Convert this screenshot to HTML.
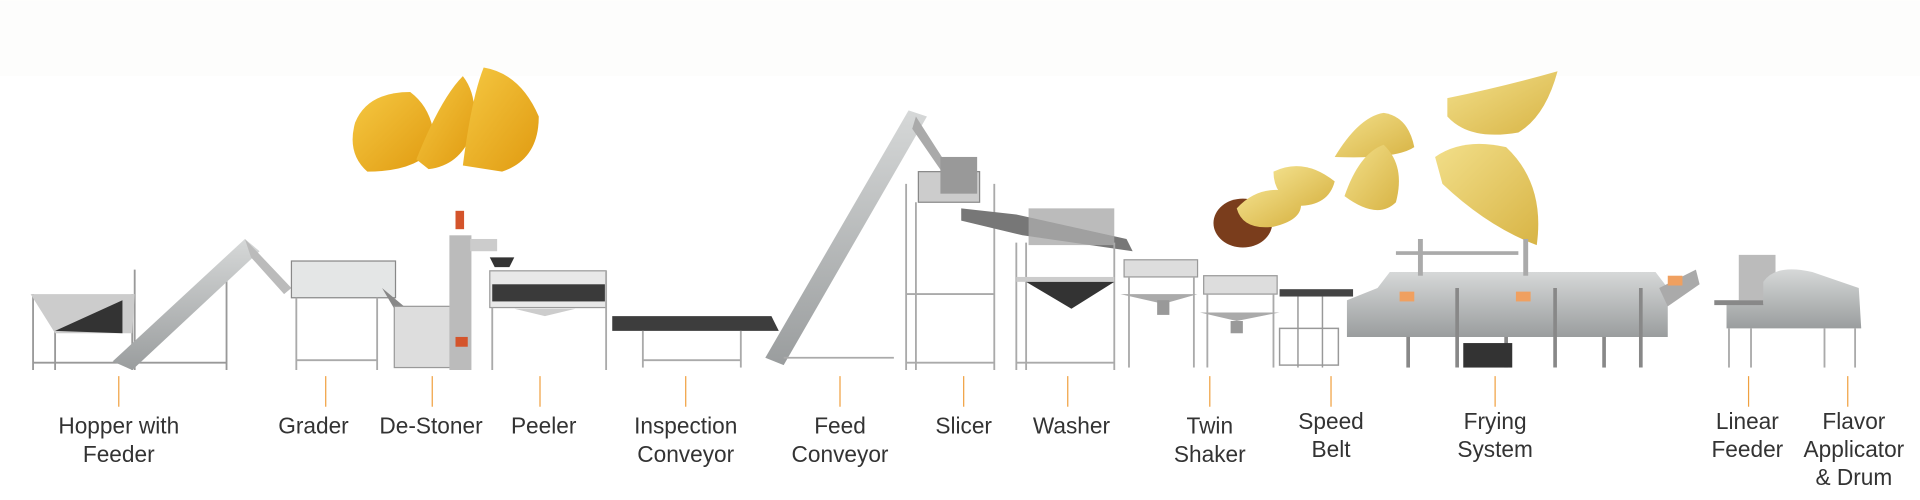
<!DOCTYPE html>
<html><head><meta charset="utf-8"><style>
html,body{margin:0;padding:0;background:#fff;width:1920px;height:500px;overflow:hidden}
svg{display:block}
text{font-family:"Liberation Sans",Arial,sans-serif;font-size:18.5px;fill:#333;text-anchor:middle}
</style></head><body>
<svg width="1920" height="500" viewBox="0 0 1568 408" xmlns="http://www.w3.org/2000/svg">
<defs>
<linearGradient id="ch" x1="0" y1="0" x2="1" y2="1"><stop offset="0" stop-color="#f5c842"/><stop offset="1" stop-color="#e09a10"/></linearGradient>
<linearGradient id="cl" x1="0" y1="0" x2="1" y2="1"><stop offset="0" stop-color="#f2df8a"/><stop offset="1" stop-color="#d8b445"/></linearGradient>
<linearGradient id="mt" x1="0" y1="0" x2="0" y2="1"><stop offset="0" stop-color="#d6d8d8"/><stop offset="1" stop-color="#9a9d9e"/></linearGradient>
</defs>
<rect x="0" y="0" width="1568" height="62" fill="#fdfdfc"/>
<g>
<path d="M290 100 Q300 75 335 75 Q355 90 355 120 Q340 140 300 140 Q283 125 290 100Z" fill="url(#ch)"/>
<path d="M340 130 Q360 80 378 62 Q392 80 385 110 Q375 135 350 138Z" fill="url(#ch)"/>
<path d="M378 135 Q385 80 395 55 Q425 60 440 95 Q440 130 410 140Z" fill="url(#ch)"/>
</g>
<ellipse cx="1015" cy="182" rx="24" ry="20" fill="#7a3d1c"/>
<path d="M1010 170 Q1030 148 1060 158 Q1070 178 1040 185 Q1015 188 1010 170Z" fill="url(#cl)"/>
<path d="M1040 140 Q1065 128 1090 148 Q1085 168 1060 168 Q1040 160 1040 140Z" fill="url(#cl)"/>
<path d="M1090 128 Q1110 95 1130 92 Q1150 95 1155 120 Q1140 130 1090 128Z" fill="url(#cl)"/>
<path d="M1098 160 Q1110 125 1130 118 Q1148 135 1140 165 Q1125 180 1098 160Z" fill="url(#cl)"/>
<path d="M1182 80 Q1230 70 1272 58 Q1262 95 1240 108 Q1200 115 1182 95Z" fill="url(#cl)"/>
<path d="M1172 128 Q1195 112 1230 120 Q1262 150 1255 200 Q1215 185 1178 150Z" fill="url(#cl)"/>
<g stroke="#999" stroke-width="1.5" fill="none">
<line x1="27" y1="240" x2="27" y2="302"/><line x1="108" y1="240" x2="108" y2="302"/><line x1="45" y1="270" x2="45" y2="302"/><line x1="27" y1="296" x2="108" y2="296"/>
<line x1="110" y1="220" x2="110" y2="302"/><line x1="185" y1="220" x2="185" y2="302"/><line x1="110" y1="296" x2="185" y2="296"/>
</g>
<path d="M25 240 L110 240 L108 272 L45 272Z" fill="#ccc"/>
<path d="M45 270 L100 245 L100 272Z" fill="#333"/>
<path d="M92 295 L200 195 L212 205 L108 302Z" fill="url(#mt)"/>
<path d="M200 195 L238 235 L232 240 L205 210Z" fill="#bbb"/>
<rect x="238" y="213" width="85" height="30" fill="#e4e6e6" stroke="#888"/>
<path d="M312 235 L330 250 L322 252Z" fill="#888"/>
<g stroke="#aaa" stroke-width="1.5"><line x1="242" y1="243" x2="242" y2="302"/><line x1="308" y1="243" x2="308" y2="302"/><line x1="242" y1="294" x2="308" y2="294"/></g>
<rect x="322" y="250" width="62" height="50" fill="#ddd" stroke="#999"/>
<rect x="367" y="192" width="18" height="110" fill="#bbb"/>
<rect x="372" y="172" width="7" height="15" fill="#d4542b"/>
<rect x="384" y="195" width="22" height="10" fill="#ccc"/>
<rect x="372" y="275" width="10" height="8" fill="#d4542b"/>
<path d="M400 210 L420 210 L416 218 L404 218Z" fill="#333"/>
<rect x="400" y="221" width="95" height="30" fill="#e8e8e8" stroke="#999"/>
<rect x="402" y="232" width="92" height="14" fill="#3a3a3a"/>
<g stroke="#aaa" stroke-width="1.5"><line x1="402" y1="251" x2="402" y2="302"/><line x1="495" y1="221" x2="495" y2="302"/></g>
<path d="M420 252 L470 252 L445 258Z" fill="#ccc"/>
<path d="M500 258 L630 258 L636 270 L500 270Z" fill="#3d3d3d"/>
<g stroke="#aaa" stroke-width="1.5"><line x1="525" y1="270" x2="525" y2="300"/><line x1="605" y1="270" x2="605" y2="300"/><line x1="525" y1="294" x2="605" y2="294"/></g>
<path d="M625 292 L742 90 L757 95 L640 298Z" fill="url(#mt)"/>
<path d="M748 95 L782 148 L776 150 L745 105Z" fill="#aaa"/>
<g stroke="#aaa" stroke-width="1.5"><line x1="640" y1="292" x2="730" y2="292"/><line x1="740" y1="150" x2="740" y2="302"/><line x1="812" y1="150" x2="812" y2="302"/><line x1="748" y1="165" x2="748" y2="302"/><line x1="740" y1="240" x2="812" y2="240"/><line x1="740" y1="296" x2="812" y2="296"/></g>
<rect x="750" y="140" width="50" height="25" fill="#ccc" stroke="#888"/>
<rect x="768" y="128" width="30" height="30" fill="#999"/>
<path d="M785 170 L830 175 L920 195 L925 205 L835 192 L785 180Z" fill="#777"/>
<rect x="840" y="170" width="70" height="30" fill="#aaa" opacity=".8"/>
<g stroke="#aaa" stroke-width="1.5"><line x1="830" y1="198" x2="830" y2="302"/><line x1="910" y1="198" x2="910" y2="302"/><line x1="838" y1="198" x2="838" y2="302"/><line x1="830" y1="296" x2="910" y2="296"/></g>
<rect x="830" y="226" width="80" height="4" fill="#ccc"/>
<path d="M838 230 L910 230 L875 252Z" fill="#333"/>
<rect x="918" y="212" width="60" height="14" fill="#ddd" stroke="#999"/>
<rect x="983" y="225" width="60" height="15" fill="#ddd" stroke="#999"/>
<g stroke="#aaa" stroke-width="1.5"><line x1="922" y1="226" x2="922" y2="300"/><line x1="975" y1="226" x2="975" y2="300"/><line x1="986" y1="240" x2="986" y2="300"/><line x1="1040" y1="240" x2="1040" y2="300"/></g>
<path d="M915 240 L978 240 L950 248Z" fill="#aaa"/><rect x="945" y="245" width="10" height="12" fill="#999"/>
<path d="M980 255 L1045 255 L1010 262Z" fill="#aaa"/><rect x="1005" y="262" width="10" height="10" fill="#999"/>
<rect x="1045" y="236" width="60" height="6" fill="#444"/>
<g stroke="#999" stroke-width="1.2" fill="none"><rect x="1045" y="268" width="48" height="30"/><line x1="1060" y1="242" x2="1060" y2="300"/><line x1="1080" y1="242" x2="1080" y2="300"/></g>
<path d="M1125 235 L1135 222 L1352 222 L1362 235 L1362 275 L1100 275 L1100 245Z" fill="url(#mt)"/>
<rect x="1158" y="195" width="4" height="30" fill="#aaa"/><rect x="1244" y="195" width="4" height="30" fill="#aaa"/>
<rect x="1140" y="205" width="100" height="3" fill="#aaa"/>
<path d="M1355 235 L1385 220 L1388 232 L1362 250Z" fill="#aaa"/>
<g stroke="#888" stroke-width="3"><line x1="1150" y1="275" x2="1150" y2="300"/><line x1="1190" y1="235" x2="1190" y2="300"/><line x1="1230" y1="275" x2="1230" y2="300"/><line x1="1270" y1="235" x2="1270" y2="300"/><line x1="1310" y1="275" x2="1310" y2="300"/><line x1="1340" y1="235" x2="1340" y2="300"/></g>
<rect x="1195" y="280" width="40" height="20" fill="#333"/>
<rect x="1143" y="238" width="12" height="8" fill="#f0a060"/><rect x="1238" y="238" width="12" height="8" fill="#f0a060"/><rect x="1362" y="225" width="12" height="8" fill="#f0a060"/>
<path d="M1420 208 L1450 208 L1450 245 L1420 245Z" fill="#bbb"/>
<path d="M1440 230 Q1450 215 1480 222 L1518 235 L1520 268 L1410 268 L1410 248 L1440 248Z" fill="url(#mt)"/>
<rect x="1400" y="245" width="40" height="4" fill="#888"/>
<g stroke="#aaa" stroke-width="1.5"><line x1="1412" y1="268" x2="1412" y2="300"/><line x1="1430" y1="268" x2="1430" y2="300"/><line x1="1490" y1="268" x2="1490" y2="300"/><line x1="1515" y1="268" x2="1515" y2="300"/></g>
<g stroke="#f0a040" stroke-width="1">
<line x1="97" y1="307" x2="97" y2="332"/><line x1="266" y1="307" x2="266" y2="332"/><line x1="353" y1="307" x2="353" y2="332"/><line x1="441" y1="307" x2="441" y2="332"/><line x1="560" y1="307" x2="560" y2="332"/><line x1="686" y1="307" x2="686" y2="332"/><line x1="787" y1="307" x2="787" y2="332"/><line x1="872" y1="307" x2="872" y2="332"/><line x1="988" y1="307" x2="988" y2="332"/><line x1="1087" y1="307" x2="1087" y2="332"/><line x1="1221" y1="307" x2="1221" y2="332"/><line x1="1428" y1="307" x2="1428" y2="332"/><line x1="1509" y1="307" x2="1509" y2="332"/>
</g>
<text x="97" y="354">Hopper with</text><text x="97" y="377">Feeder</text>
<text x="256" y="354">Grader</text>
<text x="352" y="354">De-Stoner</text>
<text x="444" y="354">Peeler</text>
<text x="560" y="354">Inspection</text><text x="560" y="377">Conveyor</text>
<text x="686" y="354">Feed</text><text x="686" y="377">Conveyor</text>
<text x="787" y="354">Slicer</text>
<text x="875" y="354">Washer</text>
<text x="988" y="354">Twin</text><text x="988" y="377">Shaker</text>
<text x="1087" y="350">Speed</text><text x="1087" y="373">Belt</text>
<text x="1221" y="350">Frying</text><text x="1221" y="373">System</text>
<text x="1427" y="350">Linear</text><text x="1427" y="373">Feeder</text>
<text x="1514" y="350">Flavor</text><text x="1514" y="373">Applicator</text><text x="1514" y="396">&amp; Drum</text>
</svg>
</body></html>
